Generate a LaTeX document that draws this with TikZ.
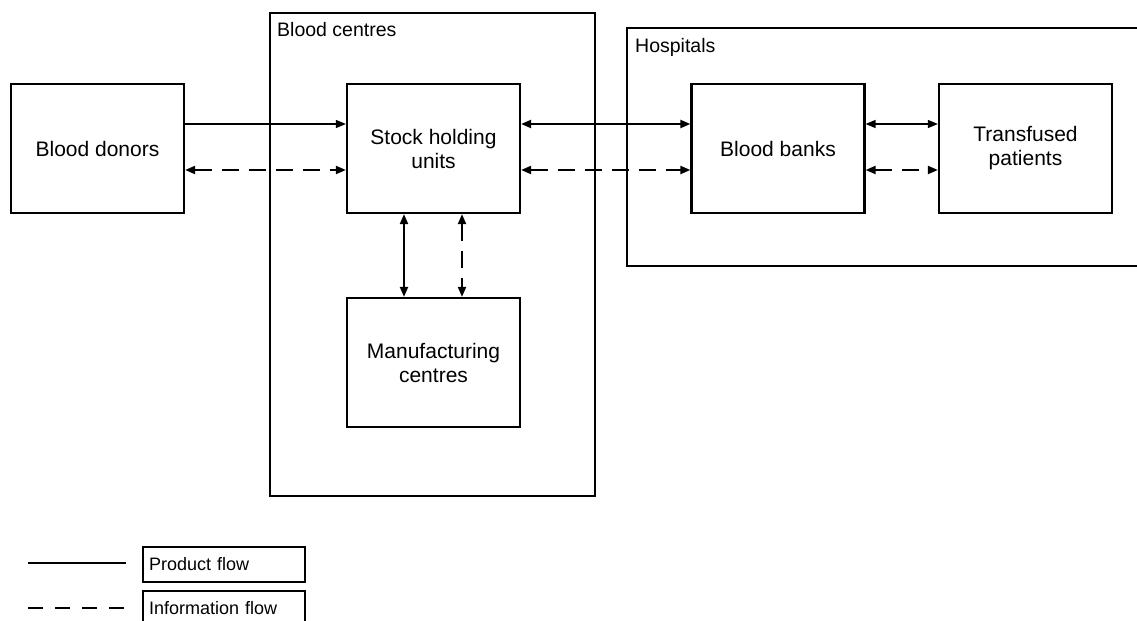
\documentclass[tikz,border=0pt]{standalone}
\usepackage{fontspec}
\setmainfont{Liberation Sans}
\usetikzlibrary{arrows.meta}
\begin{document}
\begin{tikzpicture}[x=1bp,y=-1bp,
  unit/.style={draw, line width=2.2bp, minimum width=173bp, minimum height=129bp,
    inner sep=0pt, align=center, font=\fontsize{21bp}{24bp}\selectfont},
  group/.style={draw, line width=1.7bp, inner sep=0pt},
  grouptitle/.style={anchor=base west, inner sep=0pt, font=\fontsize{19.5bp}{24bp}\selectfont},
  keybox/.style={draw, line width=1.7bp, minimum width=162bp, minimum height=35bp,
    text width=150bp, inner xsep=6bp, inner ysep=0pt, align=left,
    font=\fontsize{18bp}{21bp}\selectfont},
  flowtip/.tip={Triangle[length=10bp,width=8bp]},
  product/.style={line width=2bp, flowtip-flowtip},
  productthin/.style={line width=1.3bp},
  info/.style={line width=2bp, dash pattern=on 17bp off 10bp, flowtip-flowtip},
]
\useasboundingbox (0,0) rectangle (1137,621);
\clip (0,0) rectangle (1137,621);

% organisational groupings
\node[group, minimum width=325bp, minimum height=483bp] (centres) at (432.5,254.5) {};
\node[grouptitle] (centrestitle) at (277,37) {Blood centres};
\node[group, minimum width=540bp, minimum height=238bp] (hospitals) at (897,147) {};
\node[grouptitle] (hospitalstitle) at (635,53) {Hospitals};

% supply chain stages
\node[unit] (donors) at (97.5,148.5) {Blood donors};
\node[unit] (stock) at (433.5,148.5) {Stock holding\\units};
\node[unit] (manuf) at (433.5,362.5) {Manufacturing\\centres};
\node[unit] (banks) at (778,148.5) {Blood banks};
\node[unit] (patients) at (1025.5,148.5) {Transfused\\patients};

% product flows
\draw[productthin, -flowtip] ([yshift=24.5bp]donors.east) -- ([yshift=24.5bp]stock.west);
\draw[product] ([yshift=24.5bp]stock.east) -- ([yshift=24.5bp]banks.west);
\draw[productthin, flowtip-flowtip] ([yshift=24.5bp]banks.east) -- ([yshift=24.5bp]patients.west);
\draw[product] ([xshift=-29.5bp]stock.south) -- ([xshift=-29.5bp]manuf.north);

% information flows
\draw[info] ([yshift=-21.5bp]donors.east) -- ([yshift=-21.5bp]stock.west);
\draw[info] ([yshift=-21.5bp]stock.east) -- ([yshift=-21.5bp]banks.west);
\draw[info] ([yshift=-21.5bp]banks.east) -- ([yshift=-21.5bp]patients.west);
\draw[info] ([xshift=28.5bp]stock.south) -- ([xshift=28.5bp]manuf.north);

% key
\coordinate (solidA) at (28,563);
\coordinate (solidB) at (126,563);
\coordinate (dashA) at (28,608);
\coordinate (dashB) at (126,608);
\draw[line width=2bp] (solidA) -- (solidB);
\draw[line width=2bp, dash pattern=on 15bp off 12bp] (dashA) -- (dashB);
\node[keybox] (keyproduct) at (224,564.5) {Product flow};
\node[keybox] (keyinfo) at (224,608.5) {Information flow};
\end{tikzpicture}
\end{document}
